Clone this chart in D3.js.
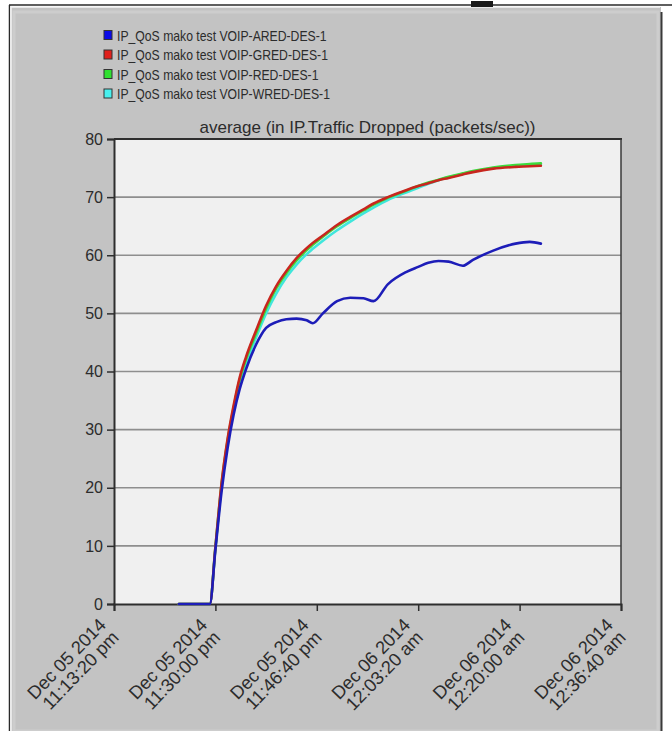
<!DOCTYPE html>
<html>
<head>
<meta charset="utf-8">
<script src="https://cdn.jsdelivr.net/npm/d3@7"></script>
<style>
  html, body { margin: 0; padding: 0; background: #ffffff; }
  svg { display: block; }
  text { font-family: "Liberation Sans", Arial, sans-serif; fill: #2c2c2c; }
</style>
</head>
<body>
<svg id="chart" width="672" height="731"></svg>
<script>
// Simulation start and sample times (seconds after start)
const startTime = new Date(2014, 11, 5, 23, 13, 20);
const sampleSeconds = [640, 945, 1000, 1060, 1120, 1180, 1240, 1300, 1400, 1500, 1600, 1700, 1800, 1900,
  1960, 2060, 2200, 2330, 2460, 2560, 2700, 2880, 3000, 3100, 3200, 3300, 3440, 3540, 3740, 3960, 4100, 4210];

const seriesNames = [
  "IP_QoS mako test VOIP-ARED-DES-1",
  "IP_QoS mako test VOIP-GRED-DES-1",
  "IP_QoS mako test VOIP-RED-DES-1",
  "IP_QoS mako test VOIP-WRED-DES-1"
];

// Average IP traffic dropped (packets/sec)
const aredValues = [0, 0, 9.3, 19.2, 26.8, 32.6, 37.0, 40.3, 44.6, 47.5, 48.5, 49, 49.1, 48.8,
  48.3, 50, 52.1, 52.7, 52.6, 52.1, 55, 57.1, 58.0, 58.7, 59.0, 58.9, 58.2, 59.2, 60.8, 62.0, 62.3, 62.0];
const gredValues = [0, 0, 9.8, 20.7, 28.4, 34.2, 39.0, 42.4, 47.0, 51.3, 54.7, 57.3, 59.5, 61.2,
  62.1, 63.4, 65.2, 66.6, 67.9, 68.9, 70.0, 71.2, 71.9, 72.4, 72.9, 73.3, 73.9, 74.3, 74.9, 75.2, 75.3, 75.4];
const redValues = [0, 0, 9.7, 20.5, 28.1, 33.8, 38.6, 42.0, 46.5, 50.8, 54.3, 56.9, 59.1, 60.9,
  61.8, 63.2, 65.0, 66.4, 67.7, 68.7, 69.9, 71.1, 71.9, 72.5, 73.0, 73.5, 74.1, 74.5, 75.1, 75.5, 75.7, 75.8];
const wredValues = [0, 0, 9.6, 20.2, 27.7, 33.2, 37.9, 41.2, 45.8, 50.0, 53.4, 56.2, 58.4, 60.2,
  61.1, 62.5, 64.3, 65.8, 67.2, 68.2, 69.5, 70.8, 71.6, 72.3, 72.9, 73.4, 74.0, 74.4, 75.0, 75.4, 75.6, 75.7];

const lineColors = ["#1d1db8", "#c8261e", "#3cdc3c", "#40e6dc"];
const swatchColors = ["#0a0ae6", "#e0201c", "#30e030", "#48f0ee"];

const yTicks = [0, 10, 20, 30, 40, 50, 60, 70, 80];
const xTickSeconds = [0, 1000, 2000, 3000, 4000, 5000];
const xTickLabels = [
  ["Dec 05 2014", "11:13:20 pm"],
  ["Dec 05 2014", "11:30:00 pm"],
  ["Dec 05 2014", "11:46:40 pm"],
  ["Dec 06 2014", "12:03:20 am"],
  ["Dec 06 2014", "12:20:00 am"],
  ["Dec 06 2014", "12:36:40 am"]
];
const chartTitle = "average (in IP.Traffic Dropped (packets/sec))";

const svg = d3.select("#chart");
const toDate = s => new Date(startTime.getTime() + s * 1000);

// Window frame
svg.append("rect").attr("x", 11).attr("y", 7).attr("width", 650).attr("height", 724).attr("fill", "#c3c3c3");
svg.append("rect").attr("x", 14).attr("y", 12).attr("width", 644).attr("height", 719)
  .attr("fill", "none").attr("stroke", "#cdcdcd").attr("stroke-width", 3);
svg.append("line").attr("x1", 9).attr("x2", 672).attr("y1", 5).attr("y2", 5).attr("stroke", "#2a2a2a").attr("stroke-width", 1.5);
svg.append("line").attr("x1", 9.5).attr("x2", 9.5).attr("y1", 5).attr("y2", 731).attr("stroke", "#2a2a2a").attr("stroke-width", 1.5);
svg.append("line").attr("x1", 11).attr("x2", 11).attr("y1", 6).attr("y2", 731).attr("stroke", "#f4f4f4").attr("stroke-width", 1.5);
svg.append("line").attr("x1", 11).attr("x2", 660).attr("y1", 7).attr("y2", 7).attr("stroke", "#f4f4f4").attr("stroke-width", 1.5);
svg.append("line").attr("x1", 661.5).attr("x2", 661.5).attr("y1", 12).attr("y2", 731).attr("stroke", "#3a3a3a").attr("stroke-width", 2);
svg.append("rect").attr("x", 471).attr("y", 1).attr("width", 22).attr("height", 6).attr("fill", "#1a1a1a");

// Plot geometry
const plot = { left: 114, right: 621, top: 139, bottom: 604 };

const x = d3.scaleTime()
  .domain([toDate(0), toDate(5000)])
  .range([plot.left, plot.right]);
const y = d3.scaleLinear()
  .domain([0, 80])
  .range([plot.bottom, plot.top]);

svg.append("rect")
  .attr("x", plot.left).attr("y", plot.top)
  .attr("width", plot.right - plot.left).attr("height", plot.bottom - plot.top)
  .attr("fill", "#f0f0f0");

// Horizontal grid
svg.append("g")
  .selectAll("line")
  .data(yTicks.filter(v => v > 0 && v < 80))
  .join("line")
  .attr("x1", plot.left).attr("x2", plot.right)
  .attr("y1", d => y(d)).attr("y2", d => y(d))
  .attr("stroke", "#8e8e8e").attr("stroke-width", 1.6);

// Plot border (top/right)
svg.append("line").attr("x1", plot.left).attr("x2", plot.right + 1).attr("y1", plot.top).attr("y2", plot.top)
  .attr("stroke", "#2e2e2e").attr("stroke-width", 2);
svg.append("line").attr("x1", plot.right).attr("x2", plot.right).attr("y1", plot.top).attr("y2", plot.bottom)
  .attr("stroke", "#3a3a3a").attr("stroke-width", 1.5);

// Y axis
const yAxis = d3.axisLeft(y).tickValues(yTicks).tickSize(7).tickPadding(4).tickFormat(d3.format("d"));
const gy = svg.append("g").attr("transform", `translate(${plot.left},0)`).call(yAxis);
gy.select(".domain").attr("stroke", "#2e2e2e").attr("stroke-width", 2);
gy.selectAll(".tick line").attr("stroke", "#2e2e2e").attr("stroke-width", 1.5);
gy.selectAll(".tick text").attr("font-size", 16).attr("font-family", "Liberation Sans, Arial, sans-serif").attr("fill", "#2c2c2c");

// X axis
const xAxis = d3.axisBottom(x).tickValues(xTickSeconds.map(toDate)).tickSize(7).tickFormat("");
const gx = svg.append("g").attr("transform", `translate(0,${plot.bottom})`).call(xAxis);
gx.select(".domain").attr("stroke", "#2e2e2e").attr("stroke-width", 2);
gx.selectAll(".tick line").attr("stroke", "#2e2e2e").attr("stroke-width", 1.5);

// Rotated two-line tick labels
const xl = svg.append("g")
  .selectAll("g")
  .data(xTickSeconds.map((s, i) => ({ s, lines: xTickLabels[i] })))
  .join("g")
  .attr("transform", d => `translate(${x(toDate(d.s)) - 7},${plot.bottom + 22}) rotate(-46)`);
xl.selectAll("text")
  .data(d => d.lines)
  .join("text")
  .attr("x", 0)
  .attr("y", (d, i) => i * 18)
  .attr("text-anchor", "end")
  .attr("font-size", 18.3)
  .text(d => d);

// Title
svg.append("text")
  .attr("x", (plot.left + plot.right) / 2)
  .attr("y", plot.top - 6)
  .attr("text-anchor", "middle")
  .attr("font-size", 17)
  .text(chartTitle);

// Lines
const series = [aredValues, gredValues, redValues, wredValues].map((vals, i) => ({
  name: seriesNames[i],
  color: lineColors[i],
  points: sampleSeconds.map((s, j) => ({ t: toDate(s), v: vals[j] }))
}));

const line = d3.line()
  .x(d => x(d.t))
  .y(d => y(d.v))
  .curve(d3.curveMonotoneX);

const drawOrder = [3, 2, 1, 0];
svg.append("g")
  .selectAll("path")
  .data(drawOrder.map(i => series[i]))
  .join("path")
  .attr("d", d => line(d.points))
  .attr("fill", "none")
  .attr("stroke", d => d.color)
  .attr("stroke-width", 2.6)
  .attr("stroke-linejoin", "round")
  .attr("stroke-linecap", "round");

// Legend
const legend = svg.append("g")
  .selectAll("g")
  .data(series)
  .join("g")
  .attr("transform", (d, i) => `translate(104,${35 + i * 19.5})`);
legend.append("rect")
  .attr("x", 0).attr("y", -4.5).attr("width", 8).attr("height", 9)
  .attr("fill", (d, i) => swatchColors[i])
  .attr("stroke", "#333").attr("stroke-width", 1);
legend.append("text")
  .attr("transform", "translate(13,5.5) scale(0.86,1)")
  .attr("font-size", 14.2)
  .text(d => d.name);
</script>
</body>
</html>
